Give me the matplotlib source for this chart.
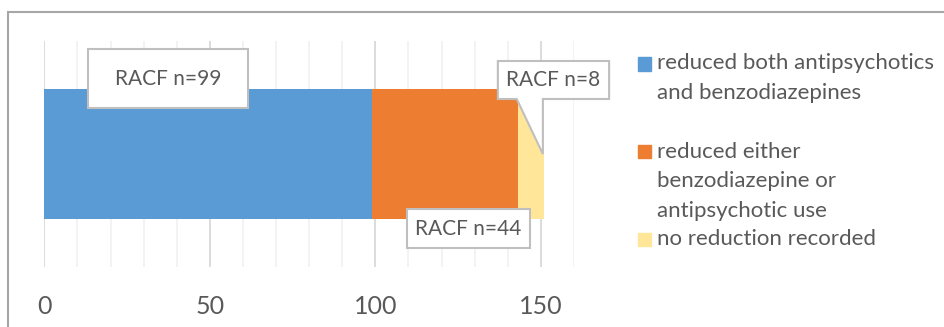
import matplotlib
matplotlib.use("Agg")
import matplotlib.pyplot as plt
from matplotlib.patches import Rectangle, Polygon
import numpy as np

# Data
series_labels = [
    "reduced both antipsychotics\nand benzodiazepines",
    "reduced either\nbenzodiazepine or\nantipsychotic use",
    "no reduction recorded",
]
series_values = [99, 44, 8]
series_colors = ["#5B9BD5", "#ED7D31", "#FFE699"]
label_prefix = "RACF n="
x_ticks = [0, 50, 100, 150]
x_max = 160

TEXT = "#595959"
FONT = ["Lato", "DejaVu Sans"]
plt.rcParams["font.family"] = FONT

W, H = 945, 327
fig = plt.figure(figsize=(W / 100, H / 100), dpi=100)
ax = fig.add_axes([44.3 / W, 1 - 267 / H, (574 - 44.3) / W, 226 / H])

# Stacked horizontal bar
lefts = np.concatenate([[0], np.cumsum(series_values)[:-1]])
for v, l, c in zip(series_values, lefts, series_colors):
    ax.barh(0, v, left=l, height=0.575, color=c, zorder=2)

ax.set_xlim(0, x_max)
ax.set_ylim(-0.5, 0.5)
ax.set_yticks([])
ax.set_xticks(x_ticks)
ax.set_xticks(np.arange(0, x_max + 1, 10), minor=True)
ax.tick_params(axis="x", which="both", length=0, pad=20, labelsize=18, labelcolor=TEXT)
ax.grid(axis="x", which="minor", color="#F2F2F2", lw=1.3, zorder=0)
ax.grid(axis="x", which="major", color="#D9D9D9", lw=1.3, zorder=0)
for s in ax.spines.values():
    s.set_visible(False)

box_kw = dict(facecolor="white", edgecolor="#BFBFBF", lw=1.5, zorder=5, clip_on=False)
txt_kw = dict(ha="center", va="center", color=TEXT, fontsize=15, zorder=6, clip_on=False)

# Label for first segment
ax.add_patch(Rectangle((13.2, 0.2035), 61.5 - 13.2, 0.465 - 0.2035, **box_kw))
ax.text(37.4, 0.332, f"{label_prefix}{series_values[0]}", **txt_kw)

# Label for second segment
ax.add_patch(Rectangle((109.5, -0.416), 146.7 - 109.5, 0.416 - 0.243, **box_kw))
ax.text(128.1, -0.330, f"{label_prefix}{series_values[1]}", **txt_kw)

# Callout for last segment, pointing at the bar end
tip_x = float(np.sum(series_values))
x0, x1, yb, yt = 137.0, 170.6, 0.2434, 0.4115
callout = [(x0, yt), (x1, yt), (x1, yb), (tip_x - 0.4, yb), (tip_x - 0.4, 0.0),
           (142.7, yb), (x0, yb)]
ax.add_patch(Polygon(callout, closed=True, joinstyle="miter", **box_kw))
ax.text(153.8, 0.3274, f"{label_prefix}{series_values[2]}", **txt_kw)

# Legend drawn beside the plot
sq = 13
entry_rows = [[69.3, 99], [158, 187, 217], [245]]
square_centres = [64, 151, 239]
for lab, col, rows, sc in zip(series_labels, series_colors, entry_rows, square_centres):
    fig.add_artist(Rectangle((638 / W, 1 - (sc + sq / 2) / H), sq / W, sq / H,
                             transform=fig.transFigure, color=col))
    for line, yb_px in zip(lab.split("\n"), rows):
        fig.text(657 / W, 1 - yb_px / H, line, ha="left", va="baseline",
                 color=TEXT, fontsize=16)

# Chart area border
fig.add_artist(Rectangle((8 / W, -0.1), 2, 1 - 12 / H + 0.1, transform=fig.transFigure,
                         fill=False, ec="#A6A6A6", lw=1.5))

fig.savefig("out.png", dpi=100, facecolor="white")
